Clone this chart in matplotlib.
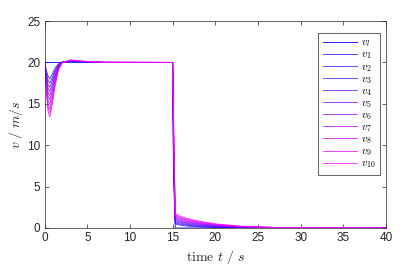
import matplotlib
matplotlib.use("Agg")
import matplotlib.pyplot as plt

plt.rcParams['mathtext.fontset'] = 'cm'
plt.rcParams['font.family'] = ['Liberation Sans', 'DejaVu Sans']

t = [0, 0.2, 0.4, 0.6, 0.9, 1.2, 1.6, 2.0, 3.0, 4.5, 7, 15, 15.1, 15.3, 15.7, 16.5, 18, 20, 23, 27, 40]
t_leader = [0, 15, 15.15, 15.3, 40]
v_leader = [20, 20, 8, 0, 0]

v1 = [20, 19.0, 18.3, 18.0, 18.6, 19.3, 19.8, 20.05, 20.12, 20.04, 20.0, 20, 6, 0.5, 0.38, 0.25, 0.13, 0.06, 0.02, 0, 0]
v2 = [20, 18.7, 17.8, 17.5, 18.2, 19.0, 19.7, 20.03, 20.14, 20.05, 20.0, 20, 7, 0.64, 0.5, 0.36, 0.21, 0.11, 0.04, 0.01, 0]
v3 = [20, 18.4, 17.3, 17.0, 17.8, 18.8, 19.6, 20.02, 20.16, 20.06, 20.0, 20, 8, 0.78, 0.63, 0.46, 0.29, 0.16, 0.06, 0.02, 0]
v4 = [20, 18.1, 16.9, 16.5, 17.4, 18.5, 19.5, 20.0, 20.18, 20.08, 20.01, 20, 9, 0.92, 0.75, 0.57, 0.37, 0.21, 0.09, 0.02, 0]
v5 = [20, 17.8, 16.4, 16.0, 17.0, 18.3, 19.4, 19.98, 20.2, 20.09, 20.01, 20, 10, 1.06, 0.88, 0.67, 0.45, 0.26, 0.11, 0.03, 0]
v6 = [20, 17.6, 15.9, 15.5, 16.6, 18.0, 19.4, 19.97, 20.22, 20.1, 20.01, 20, 10.5, 1.19, 1.0, 0.78, 0.53, 0.3, 0.13, 0.04, 0]
v7 = [20, 17.3, 15.4, 15.0, 16.2, 17.8, 19.3, 19.95, 20.24, 20.11, 20.01, 20, 11.5, 1.33, 1.13, 0.88, 0.61, 0.35, 0.15, 0.05, 0]
v8 = [20, 17.0, 14.9, 14.4, 15.8, 17.5, 19.2, 19.93, 20.26, 20.12, 20.02, 20, 12.5, 1.47, 1.25, 0.99, 0.69, 0.4, 0.18, 0.05, 0]
v9 = [20, 16.7, 14.5, 13.9, 15.4, 17.3, 19.1, 19.92, 20.28, 20.14, 20.02, 20, 13.3, 1.61, 1.38, 1.09, 0.77, 0.45, 0.2, 0.06, 0]
v10 = [20, 16.4, 14.0, 13.4, 15.0, 17.0, 19.0, 19.9, 20.3, 20.15, 20.02, 20, 14, 1.75, 1.5, 1.2, 0.85, 0.5, 0.22, 0.07, 0]
followers = [v1, v2, v3, v4, v5, v6, v7, v8, v9, v10]

xticks = [0, 5, 10, 15, 20, 25, 30, 35, 40]
yticks = [0, 5, 10, 15, 20, 25]

fig = plt.figure(figsize=(4.15, 2.66), dpi=100)
ax = fig.add_axes([0.1077, 0.1429, 0.8223, 0.7781])

ax.plot(t_leader, v_leader, color=(0.0, 0.0, 1.0), lw=0.6, label=r'$v_l$')
n = len(followers)
for i, v in enumerate(followers):
    f = (i + 1) / n
    ax.plot(t, v, color=(f, 0.0, 1.0), lw=0.6, alpha=0.85, label=r'$v_{%d}$' % (i + 1))

ax.set_xlim(0, 40)
ax.set_ylim(0, 25)
ax.set_xticks(xticks)
ax.set_yticks(yticks)
ax.tick_params(direction='in', top=True, right=True, length=3, width=0.5,
               labelsize=8.5, colors='#262626', pad=3)
for s in ax.spines.values():
    s.set_linewidth(0.5)
    s.set_color('#262626')

ax.set_xlabel(r'$\mathrm{time}\ t\ /\ s$', fontsize=10, color='#262626', labelpad=3)
ax.set_ylabel(r'$v\ /\ m/s$', fontsize=10, color='#262626', labelpad=2)

leg = ax.legend(loc='upper right', fontsize=8, handlelength=3.1, handletextpad=0.3,
                labelspacing=0.02, borderpad=0.4, fancybox=False, framealpha=1,
                edgecolor='#262626', bbox_to_anchor=(0.982, 0.942), borderaxespad=0)
leg.get_frame().set_linewidth(0.5)

fig.savefig('out.png', dpi=100)
